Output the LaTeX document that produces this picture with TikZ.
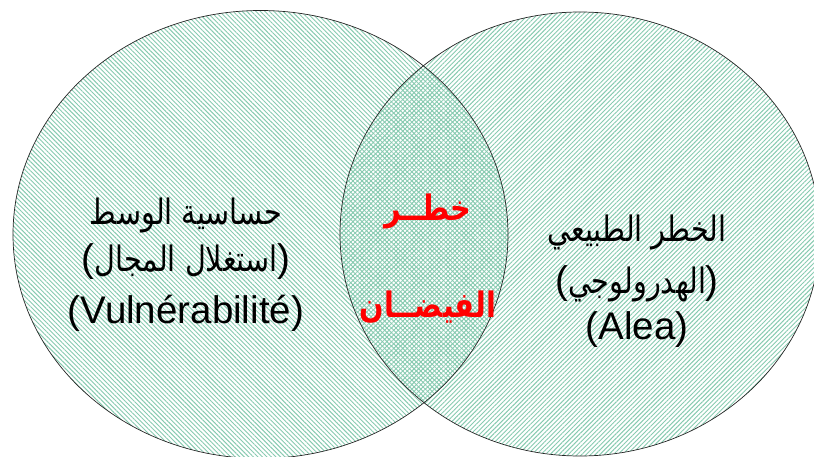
\documentclass[tikz,border=0pt]{standalone}
\usepackage{fontspec}
\usepackage{graphicx}
\setmainfont{Liberation Sans}
\newfontfamily\arabicfont[Script=Arabic]{DejaVu Sans}
\TeXXeTstate=1
\usetikzlibrary{patterns.meta}
\definecolor{hatch}{RGB}{135,202,176}
\definecolor{redtxt}{RGB}{255,0,0}
\newcommand{\ar}[1]{\scalebox{0.82}[1]{\fontsize{35}{40}\arabicfont\beginR #1\endR}}
\newcommand{\arb}[1]{\scalebox{0.82}[1]{\fontsize{35}{40}\arabicfont\bfseries\beginR #1\endR}}
\begin{document}
\begin{tikzpicture}[x=1pt,y=-1pt,
  txt/.style={anchor=base, inner sep=0pt, font=\fontsize{38.5}{46}\selectfont},
  redt/.style={txt, text=redtxt},
  hatchL/.style={pattern={Lines[angle=-45,distance=3.2pt,line width=0.95pt]}, pattern color=hatch},
  hatchR/.style={pattern={Lines[angle=45,distance=3.2pt,line width=0.95pt]}, pattern color=hatch},
  rim/.style={draw=black!85, line width=0.7pt}]
\useasboundingbox (0,0) rectangle (814,457);
\begin{scope}
\clip (0,0) rectangle (814,457);
\fill[hatchL] (260.5,234.5) ellipse [x radius=247.5, y radius=224];
\fill[hatchR] (580,234) ellipse [x radius=240, y radius=222];
\path[rim] (260.5,234.5) ellipse [x radius=247.5, y radius=224];
\path[rim] (580,234) ellipse [x radius=240, y radius=222];
\end{scope}
% left text
\node[txt] (l1) at (186,225) {\ar{حساسية الوسط}};
\node[txt] (l2) at (186,272) {\mbox{(}\ar{استغلال المجال}\mbox{)}};
\node[txt] (l3) at (186,323) {(Vulnérabilité)};
% right text
\node[txt] (r1) at (637,242) {\ar{الخطر الطبيعي}};
\node[txt] (r2) at (637,293) {\mbox{(}\ar{الهدرولوجي}\mbox{)}};
\node[txt] (r3) at (637,339) {(Alea)};
% centre text
\node[redt] (c1) at (428,221) {\arb{خطــر}};
\node[redt] (c2) at (428,317) {\arb{الفيضــان}};
\end{tikzpicture}
\end{document}
